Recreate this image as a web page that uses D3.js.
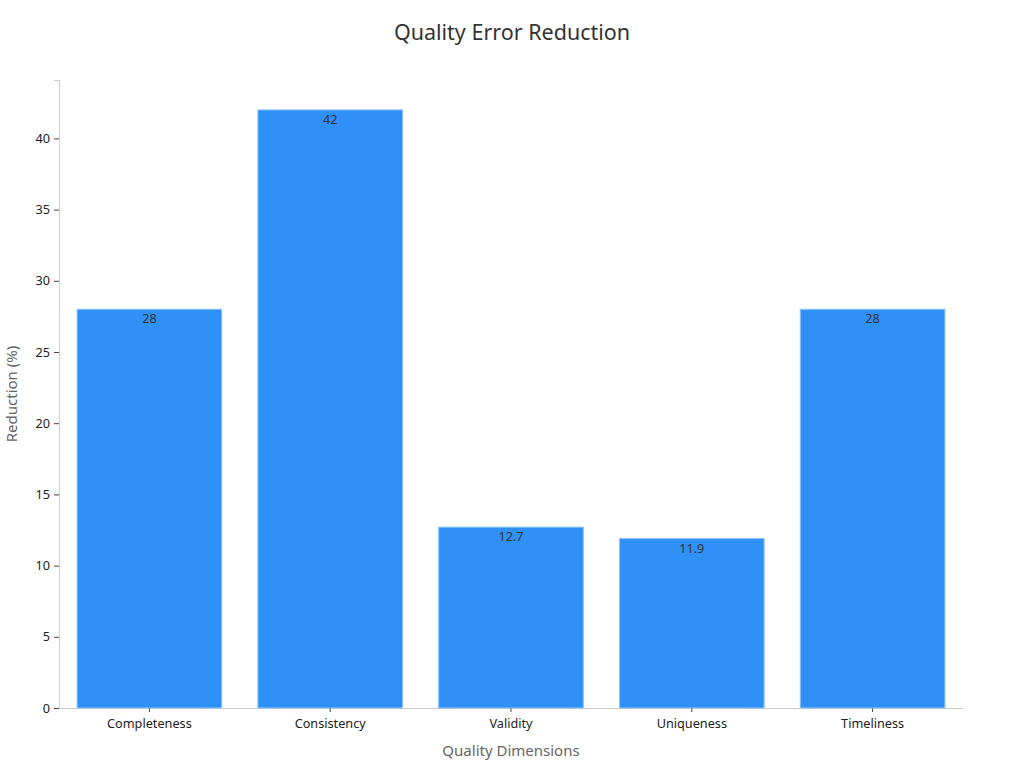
<!DOCTYPE html>
<html>
<head>
<meta charset="utf-8">
<script src="https://cdn.jsdelivr.net/npm/d3@7"></script>
<style>
  body { margin: 0; background: #fff; font-family: "Noto Sans", sans-serif; }
</style>
</head>
<body>
<div id="chart"></div>
<script>
// data
const categories = ["Completeness", "Consistency", "Validity", "Uniqueness", "Timeliness"]
const reductions = [28, 42, 12.7, 11.9, 28]
const yTicks = [0, 5, 10, 15, 20, 25, 30, 35, 40]

const width = 1024
const height = 768
const margin = { top: 80, right: 61, bottom: 60, left: 59 }

const svg = d3
  .select("#chart")
  .append("svg")
  .attr("width", width)
  .attr("height", height)

const x = d3
  .scaleBand()
  .domain(categories)
  .range([margin.left, width - margin.right])
  .paddingInner(0.2)
  .paddingOuter(0.1)

const y = d3
  .scaleLinear()
  .domain([0, d3.max(reductions) * 1.05])
  .range([height - margin.bottom, margin.top])

// title
svg
  .append("text")
  .attr("x", width / 2)
  .attr("y", 40)
  .attr("text-anchor", "middle")
  .attr("font-size", 21.5)
  .attr("fill", "#333")
  .text("Quality Error Reduction")

// y axis
const yAxis = svg
  .append("g")
  .attr("transform", `translate(${margin.left},0)`)
  .call(d3.axisLeft(y).tickValues(yTicks).tickSize(5).tickPadding(4))
yAxis.select(".domain").attr("stroke", "#ccc")
yAxis.selectAll(".tick line").attr("stroke", "#444")
yAxis.selectAll(".tick text").attr("font-size", 12.7).attr("fill", "#222").attr("font-family", "Noto Sans")

// x axis
const xAxis = svg
  .append("g")
  .attr("transform", `translate(0,${height - margin.bottom})`)
  .call(d3.axisBottom(x).tickSize(4).tickPadding(7).tickSizeOuter(0))
xAxis.select(".domain").attr("stroke", "#ccc")
xAxis.selectAll(".tick line").attr("stroke", "#444")
xAxis.selectAll(".tick text").attr("font-size", 12.7).attr("fill", "#222").attr("font-family", "Noto Sans")

// bars
svg
  .append("g")
  .selectAll("rect")
  .data(categories)
  .join("rect")
  .attr("x", (d) => x(d))
  .attr("y", (d, i) => y(reductions[i]))
  .attr("width", x.bandwidth())
  .attr("height", (d, i) => y(0) - y(reductions[i]))
  .attr("fill", "#2f91f7")
  .attr("stroke", "#8cc4fb")
  .attr("stroke-width", 1)

// value labels
svg
  .append("g")
  .selectAll("text")
  .data(categories)
  .join("text")
  .attr("x", (d) => x(d) + x.bandwidth() / 2)
  .attr("y", (d, i) => y(reductions[i]) + 14)
  .attr("text-anchor", "middle")
  .attr("font-size", 12.7)
  .attr("fill", "#333")
  .text((d, i) => reductions[i])

// axis titles
svg
  .append("text")
  .attr("x", (margin.left + width - margin.right) / 2)
  .attr("y", 756)
  .attr("text-anchor", "middle")
  .attr("font-size", 15)
  .attr("fill", "#666")
  .text("Quality Dimensions")

svg
  .append("text")
  .attr("transform", `translate(17,${(margin.top + height - margin.bottom) / 2}) rotate(-90)`)
  .attr("text-anchor", "middle")
  .attr("font-size", 15)
  .attr("fill", "#666")
  .text("Reduction (%)")
</script>
</body>
</html>
